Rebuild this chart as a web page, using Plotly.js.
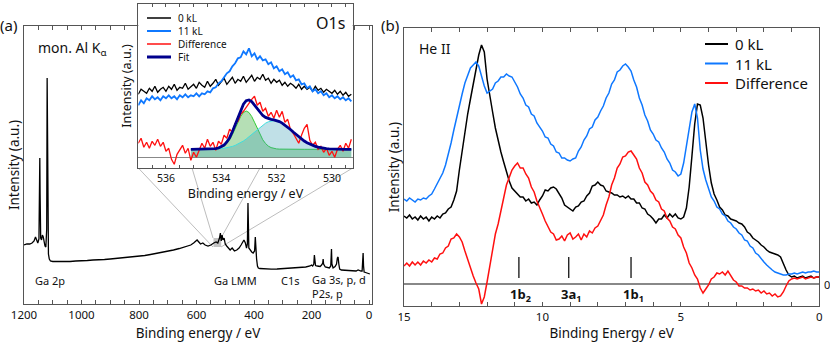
<!DOCTYPE html>
<html>
<head>
<meta charset="utf-8">
<script src="https://cdn.plot.ly/plotly-3.0.1.min.js"></script>
<style>
  html, body { margin: 0; padding: 0; background: #fff; }
  #chart { width: 830px; height: 342px; }
</style>
</head>
<body>
<div id="chart"></div>
<script>
// ---- (a) survey spectrum, mon. Al K-alpha ----
var surveyE = [1200,1190,1180,1172,1165,1160,1156,1152,1148,1146,
  1145,1144,1142,1139,1136,1133,1130,1127,1124,1121,
  1119.5,1118.5,1117,1115,1112,1108,1100,1080,1060,1040,
  1020,1000,980,960,940,920,900,880,860,840,
  820,800,780,760,740,720,700,680,660,640,
  620,610,604,598,592,586,578,570,560,550,
  540,532,526,520,517,514,511,508,504,500,
  495,488,483,476,468,460,452,445,440,435,
  430,426,423,421,419.5,418,414,408,403,398,
  395.5,394,391,388,385,380,360,340,320,300,
  280,260,240,220,205,200,196,192,190,188.5,
  186,180,170,165,161,159.5,158,152,146,138,
  133,130.5,129,125,118,113,110,107.5,105,102,
  96,80,60,45,38,35,28,24,22,20.5,
  19,17,12,5,0,-3];
var surveyI = [59,60,60,61,63,67,64,61,65,100,
  146,110,66,64,69,67,62,58,57,75,
  226,180,56,50,45,43,42.5,42.5,42,42.5,
  43,43,43.5,44,44,44.5,45,45.5,46,46.5,
  47.5,48,48.5,49.5,50.5,51.5,52.5,54,55.5,57,
  59,61,63,64,62,60,61,59,58,59,
  61,62,61,66,71,63,69,64,66,60,
  58,56,54,56,53,54,56,59,62,64,
  61,56,60,101,80,56,54,52,51,53,
  67,58,45,38,36,35.5,35,34.8,35,35.3,
  35.5,36,36.5,37,38,39,38,40,49,42,
  38.5,38,37.5,39,41,45,40,37,36.5,36,
  38,55,40,36,37.5,40,46,47,40,35,
  34,33.5,33,33,34,33.5,33,33,42,51,
  38,32,31.5,31,30.5,30];
var surveyLabels = ['Ga 2p', 'Ga LMM', 'C1s', 'Ga 3s, p, d<br>P2s, p'];

// ---- (a) inset: O1s ----
var o1sE = [537.0,536.9,536.8,536.7,536.6,536.5,536.4,536.3,536.2,536.1,
  536.0,535.9,535.8,535.7,535.6,535.5,535.4,535.3,535.2,535.1,
  535.0,534.9,534.8,534.7,534.6,534.5,534.4,534.3,534.2,534.1,
  534.0,533.9,533.8,533.7,533.6,533.5,533.4,533.3,533.2,533.1,
  533.0,532.9,532.8,532.7,532.6,532.5,532.4,532.3,532.2,532.1,
  532.0,531.9,531.8,531.7,531.6,531.5,531.4,531.3,531.2,531.1,
  531.0,530.9,530.8,530.7,530.6,530.5,530.4,530.3,530.2,530.1,
  530.0,529.9,529.8,529.7,529.6,529.5,529.4,529.3];
var o1s0kL = [63,68,66,64,69,66,71,65,68,70,
  66,71,68,73,67,70,69,74,68,71,
  73,69,75,72,70,76,71,74,78,72,
  75,79,73,77,80,74,78,76,81,75,
  79,82,76,80,78,83,77,79,74,78,
  75,77,72,75,71,74,72,69,73,68,
  71,68,70,66,71,67,69,65,68,66,
  64,67,63,66,62,65,61,63];
var o1s11kL = [52,57,54,59,57,61,58,60,57,61,
  59,62,59,61,58,62,60,63,60,62,
  61,64,61,64,63,66,65,69,70,74,
  76,80,84,86,91,94,99,100,106,103,
  109,101,104,98,101,97,98,93,95,89,
  91,86,88,83,85,80,82,77,78,73,
  74,69,71,66,68,64,66,62,64,60,
  62,59,61,58,60,57,59,56];
var o1sDiff = [14,19,10,15,9,16,12,18,11,15,
  6,9,-2,-7,3,7,12,4,9,-3,
  5,0,8,14,9,18,11,15,7,16,
  13,22,19,28,25,34,36,43,46,50,
  55,58,61,52,55,46,49,41,45,39,
  47,40,46,35,38,28,24,19,14,22,
  29,33,17,12,15,8,11,5,9,2,
  6,0,8,12,6,14,9,18];
var fitE = [535.1,535.0,534.9,534.8,534.7,534.6,534.5,534.4,534.3,534.2,
  534.1,534.0,533.9,533.8,533.7,533.6,533.5,533.4,533.3,533.2,
  533.1,533.0,532.9,532.8,532.7,532.6,532.5,532.4,532.3,532.2,
  532.1,532.0,531.9,531.8,531.7,531.6,531.5,531.4,531.3,531.2,
  531.1,531.0,530.9,530.8,530.7,530.6,530.5,530.4,530.3,530.2,
  530.1,530.0,529.9,529.8,529.7,529.6,529.5,529.4,529.3];
var fitTotal = [8,8,8,8,8,8,8,8.2,8.4,8.7,
  9.3,10.4,12.2,15.3,19.6,25.5,32.5,40.2,47.4,53.1,
  56.6,57.3,55.7,52.4,48.4,44.8,41.8,39.9,38.7,38.0,
  37.4,36.7,35.7,34.2,32.3,30.2,27.8,25.3,22.9,20.5,
  18.3,16.3,14.6,13.1,11.9,10.9,10.1,9.5,9.0,8.7,
  8.5,8.3,8.2,8.1,8,8,8,8,8];
var fitPeak1 = [8,8,8,8,8,8,8,8.1,8.2,8.4,
  8.8,9.7,11.2,13.8,17.5,22.6,28.6,35.1,40.8,44.8,
  46.3,44.8,40.8,35.1,28.6,22.6,17.5,13.8,11.2,9.7,
  8.8,8.4,8.2,8.1,8,8,8,8,8,8,
  8,8,8,8,8,8,8,8,8,8,
  8,8,8,8,8,8,8,8,8];
var fitPeak2 = [8,8,8,8,8,8,8,8.1,8.2,8.3,
  8.5,8.7,9.0,9.5,10.1,10.9,11.9,13.1,14.6,16.3,
  18.3,20.5,22.9,25.3,27.8,30.2,32.3,34.1,35.5,36.3,
  36.6,36.3,35.5,34.1,32.3,30.2,27.8,25.3,22.9,20.5,
  18.3,16.3,14.6,13.1,11.9,10.9,10.1,9.5,9.0,8.7,
  8.5,8.3,8.2,8.1,8,8,8,8,8];

// ---- (b) He II valence band ----
var heE = [15.0,14.9,14.8,14.7,14.6,14.5,14.4,14.3,14.2,14.1,
  14.0,13.9,13.8,13.7,13.6,13.5,13.4,13.3,13.2,13.1,
  13.0,12.9,12.8,12.7,12.6,12.5,12.4,12.3,12.2,12.1,
  12.0,11.9,11.8,11.7,11.6,11.5,11.4,11.3,11.2,11.1,
  11.0,10.9,10.8,10.7,10.6,10.5,10.4,10.3,10.2,10.1,
  10.0,9.9,9.8,9.7,9.6,9.5,9.4,9.3,9.2,9.1,
  9.0,8.9,8.8,8.7,8.6,8.5,8.4,8.3,8.2,8.1,
  8.0,7.9,7.8,7.7,7.6,7.5,7.4,7.3,7.2,7.1,
  7.0,6.9,6.8,6.7,6.6,6.5,6.4,6.3,6.2,6.1,
  6.0,5.9,5.8,5.7,5.6,5.5,5.4,5.3,5.2,5.1,
  5.0,4.9,4.8,4.7,4.6,4.5,4.4,4.3,4.2,4.1,
  4.0,3.9,3.8,3.7,3.6,3.5,3.4,3.3,3.2,3.1,
  3.0,2.9,2.8,2.7,2.6,2.5,2.4,2.3,2.2,2.1,
  2.0,1.9,1.8,1.7,1.6,1.5,1.4,1.3,1.2,1.1,
  1.0,0.9,0.8,0.7,0.6,0.5,0.4,0.3,0.2,0.1,
  0.0];
var he0kL = [68,66,69,65,67,64,68,65,67,63,
  67,65,68,66,70,71,75,77,84,93,
  114,134,153,170,185,200,216,229,239,232,
  205,186,172,156,143,132,122,112,103,96,
  93,91,87,87,83,85,81,82,79,84,
  88,94,93,96,97,95,91,86,79,77,
  75,73,77,78,82,83,88,91,98,99,
  102,99,98,93,92,91,89,89,87,88,
  86,88,85,85,81,81,76,75,70,68,
  65,61,65,65,69,66,70,67,70,66,
  65,67,76,97,128,160,180,179,166,142,
  119,101,90,84,77,74,69,68,65,64,
  63,61,60,57,52,50,46,44,42,39,
  37,34,32,31,30,29,27,20,14,9,
  7,8,6,7,8,6,7,8,6,7,
  7];
var he11kL = [85,83,86,84,82,85,84,86,85,88,
  90,95,100,105,111,119,129,141,154,167,
  180,190,201,209,216,219,222,218,208,198,
  191,193,195,201,203,207,207,210,208,207,
  202,197,190,186,179,177,170,168,161,157,
  153,147,146,140,138,132,131,126,126,124,
  123,125,126,133,137,144,148,155,157,164,
  167,173,178,186,191,200,204,212,214,218,
  220,217,213,204,197,186,179,169,163,154,
  150,144,142,136,132,125,121,114,112,108,
  110,121,138,156,172,180,166,134,115,104,
  95,87,83,77,75,70,68,63,61,57,
  55,51,49,44,43,38,36,31,29,25,
  22,19,16,14,12,11,10,9,9,10,
  10,11,10,11,12,11,12,12,13,12,
  12];
var heDiff = [18,21,18,22,19,22,19,23,21,24,
  22,26,25,30,31,36,38,45,46,50,
  47,42,33,24,15,8,1,-5,-20,-13,
  2,19,35,50,60,75,86,99,106,114,
  118,121,116,116,110,106,97,92,83,77,
  70,63,57,52,50,44,45,48,43,49,
  51,45,47,50,44,50,47,53,51,56,
  58,64,69,79,87,99,106,116,120,127,
  128,132,133,129,125,116,111,102,99,93,
  90,84,82,75,73,66,63,57,55,49,
  46,37,31,21,16,9,5,-4,-9,-5,
  -1,5,7,11,10,12,9,13,9,4,
  2,-2,-2,-4,-4,-6,-5,-7,-6,-9,
  -7,-10,-9,-12,-10,-13,-12,-8,-2,3,
  5,6,5,6,7,5,6,7,6,7,
  7];
var orbitalE = [10.85, 9.05, 6.8];
var orbitalNames = ['1b<sub>2</sub>', '3a<sub>1</sub>', '1b<sub>1</sub>'];

var cBlack = '#000000', cBlue = '#0f78ff', cRed = '#ff1010', cFit = '#00008c';
var FONT = 'Noto Sans, DejaVu Sans, sans-serif';

// pixel -> paper helpers for decorations
function px(v) { return v / 830; }
function py(v) { return 1 - v / 342; }

var traces = [
  {x: surveyE, y: surveyI, xaxis: 'x', yaxis: 'y', mode: 'lines', line: {color: cBlack, width: 1.3}},
  {x: fitE, y: fitPeak1, xaxis: 'x2', yaxis: 'y2', mode: 'lines', fill: 'tozeroy',
   fillcolor: 'rgba(60,170,60,0.38)', line: {color: '#33cc33', width: 1}},
  {x: fitE, y: fitPeak2, xaxis: 'x2', yaxis: 'y2', mode: 'lines', fill: 'tozeroy',
   fillcolor: 'rgba(60,160,180,0.32)', line: {color: '#40dede', width: 1}},
  {x: o1sE, y: o1sDiff, xaxis: 'x2', yaxis: 'y2', mode: 'lines', line: {color: cRed, width: 1.3}},
  {x: o1sE, y: o1s0kL, xaxis: 'x2', yaxis: 'y2', mode: 'lines', line: {color: cBlack, width: 1.3}},
  {x: o1sE, y: o1s11kL, xaxis: 'x2', yaxis: 'y2', mode: 'lines', line: {color: cBlue, width: 1.8}},
  {x: fitE, y: fitTotal, xaxis: 'x2', yaxis: 'y2', mode: 'lines', line: {color: cFit, width: 2.8}},
  {x: heE, y: he0kL, xaxis: 'x3', yaxis: 'y3', mode: 'lines', line: {color: cBlack, width: 1.5}},
  {x: heE, y: he11kL, xaxis: 'x3', yaxis: 'y3', mode: 'lines', line: {color: cBlue, width: 1.5}},
  {x: heE, y: heDiff, xaxis: 'x3', yaxis: 'y3', mode: 'lines', line: {color: cRed, width: 1.5}}
];

var frame = {showgrid: false, zeroline: false, showline: true, linecolor: '#555', linewidth: 1,
  mirror: 'ticks', ticks: 'inside', tickcolor: '#555', ticklen: 4};

var layout = {
  width: 830, height: 342,
  margin: {l: 0, r: 0, t: 0, b: 0},
  paper_bgcolor: '#fff', plot_bgcolor: '#fff',
  showlegend: false,
  font: {family: FONT, color: '#111', size: 12},
  xaxis: Object.assign({}, frame, {
    domain: [px(24), px(372)], range: [1200, -10.4], anchor: 'y',
    dtick: 200, minor: {dtick: 50, ticks: 'inside', ticklen: 4, tickcolor: '#555'},
    tickfont: {size: 11.5},
    title: {text: 'Binding energy / eV', font: {size: 13.5}, standoff: 8}
  }),
  yaxis: Object.assign({}, frame, {
    domain: [py(304), py(26)], range: [0, 278], anchor: 'x',
    ticks: '', showticklabels: false, mirror: true,
    title: {text: 'Intensity (a.u.)', font: {size: 13.5}, standoff: 0}
  }),
  xaxis2: Object.assign({}, frame, {
    domain: [px(138.3), px(352.7)], range: [537, 529.25], anchor: 'y2',
    dtick: 2, ticklen: 3, minor: {dtick: 0.5, ticks: 'inside', ticklen: 3, tickcolor: '#555'},
    tickfont: {size: 10.5},
    title: {text: 'Binding energy / eV', font: {size: 12.5}, standoff: 1}
  }),
  yaxis2: Object.assign({}, frame, {
    domain: [py(168), py(4)], range: [-10.7, 153.3], anchor: 'x2',
    ticks: '', showticklabels: false, mirror: true,
    zeroline: true, zerolinecolor: '#888', zerolinewidth: 1.5,
    title: {text: 'Intensity (a.u.)', font: {size: 12.5}, standoff: 2}
  }),
  xaxis3: Object.assign({}, frame, {
    domain: [px(404), px(819.3)], range: [15, 0], anchor: 'y3',
    dtick: 5, minor: {dtick: 1, ticks: 'inside', ticklen: 4, tickcolor: '#555'},
    tickfont: {size: 11.5},
    title: {text: 'Binding Energy / eV', font: {size: 13.5}, standoff: 8}
  }),
  yaxis3: Object.assign({}, frame, {
    domain: [py(306), py(28.3)], range: [-22, 255.7], anchor: 'x3',
    ticks: '', showticklabels: false, mirror: true,
    zeroline: true, zerolinecolor: '#888', zerolinewidth: 1.5,
    title: {text: 'Intensity (a.u.)', font: {size: 13.5}, standoff: 0}
  }),
  shapes: [],
  annotations: []
};

// zoom box and guide lines from the survey to the O1s inset
layout.shapes.push({type: 'rect', xref: 'x', yref: 'y', x0: 541, x1: 514, y0: 57, y1: 66,
  fillcolor: '#c4c4c4', line: {width: 0}, layer: 'below'});
[[138.3, 213, 247], [192, 213, 238], [260, 221, 238], [352.7, 221, 247]].forEach(function (g) {
  layout.shapes.push({type: 'line', xref: 'paper', yref: 'paper', x0: px(g[0]), y0: py(168),
    x1: px(g[1]), y1: py(g[2]), line: {color: '#bdbdbd', width: 1}, layer: 'below'});
});

// orbital markers in (b)
orbitalE.forEach(function (e, i) {
  layout.shapes.push({type: 'line', xref: 'x3', yref: 'y3', x0: e, x1: e, y0: 6, y1: 27,
    line: {color: '#111', width: 1.3}});
  layout.annotations.push({xref: 'x3', yref: 'y3', x: e, y: -11, xshift: 2, showarrow: false,
    text: '<b>' + orbitalNames[i] + '</b>', font: {size: 13, color: '#111'}});
});

// hand-placed legends: one swatch line per entry, labels as a single multi-line text
function legend(items, x0, x1, ys, size) {
  items.forEach(function (it, i) {
    layout.shapes.push({type: 'line', xref: 'paper', yref: 'paper', x0: px(x0), x1: px(x1),
      y0: py(ys[i]), y1: py(ys[i]), line: {color: it[1], width: it[2]}});
  });
  layout.annotations.push({xref: 'paper', yref: 'paper', x: px(x1 + 5),
    y: py((ys[0] + ys[ys.length - 1]) / 2), xanchor: 'left', yanchor: 'middle', align: 'left',
    showarrow: false, text: items.map(function (it) { return it[0]; }).join('<br>'),
    font: {size: size, color: '#111'}});
}
legend([['0 kL', cBlack, 1.5], ['11 kL', cBlue, 2], ['Difference', cRed, 1.5], ['Fit', cFit, 3]],
  147, 171, [18, 31, 44, 57], 10);
legend([['0 kL', cBlack, 2], ['11 kL', cBlue, 2], ['Difference', cRed, 2]],
  705, 728, [44, 63.5, 83], 15);

function label(text, x, y, size, anchor) {
  layout.annotations.push({xref: 'paper', yref: 'paper', x: px(x), y: py(y), xanchor: anchor || 'left',
    yanchor: 'middle', showarrow: false, text: text, font: {size: size, color: '#111'}});
}
label('(a)', 8.5, 25, 15, 'center');
label('(b)', 390, 25, 15, 'center');
label('mon. Al K<sub>α</sub>', 36, 49, 14);
label('O1s', 347, 23, 16, 'right');
label('He II', 417, 49, 14);
label('0', 826.5, 284, 11, 'center');
label(surveyLabels[0], 33, 280, 11);
label(surveyLabels[1], 212, 280, 11);
label(surveyLabels[2], 279, 280, 11);
layout.annotations.push({xref: 'paper', yref: 'paper', x: px(310), y: py(269.5), xanchor: 'left',
  yanchor: 'top', align: 'left', showarrow: false, text: surveyLabels[3],
  font: {size: 11, color: '#111'}});

Plotly.newPlot('chart', traces, layout, {staticPlot: true});
</script>
</body>
</html>
